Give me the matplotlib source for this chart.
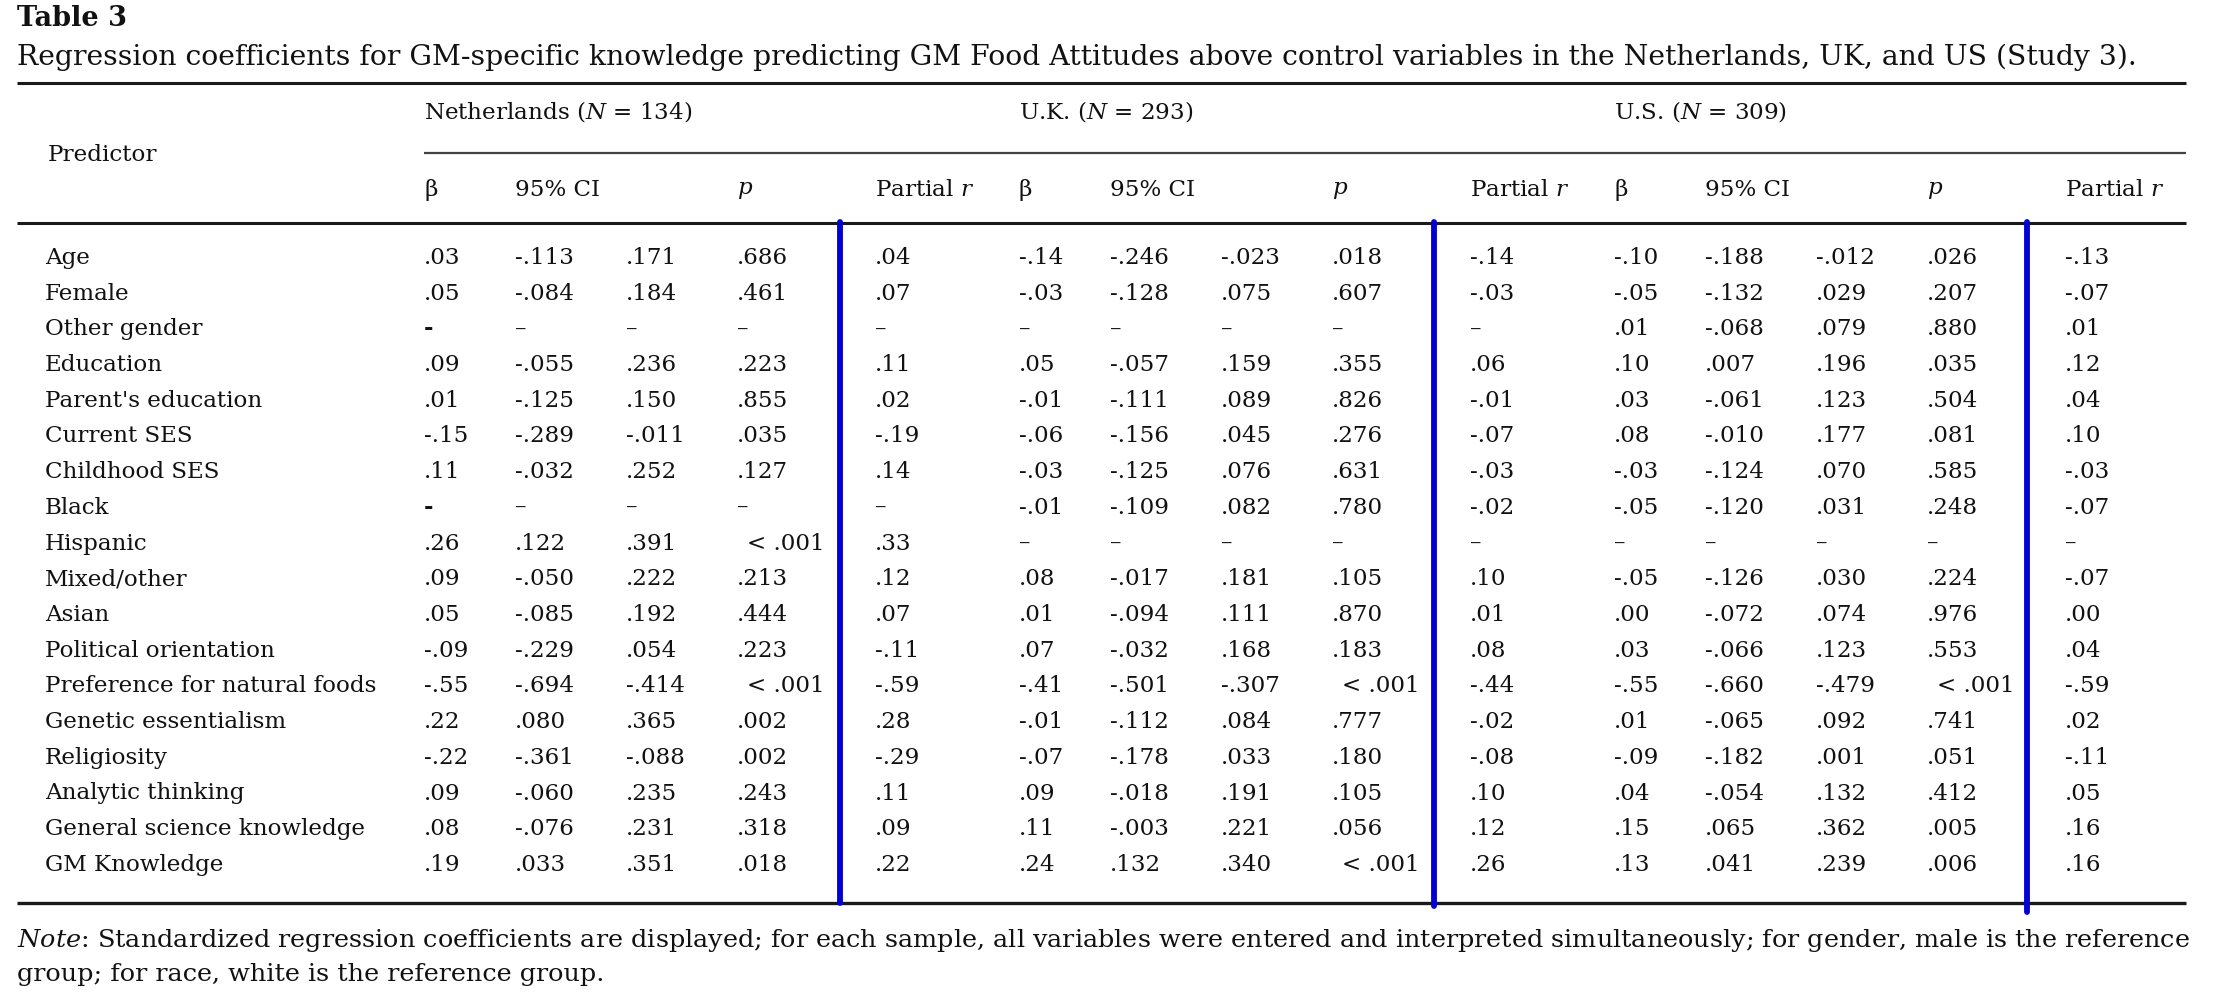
import matplotlib
matplotlib.use("Agg")
import matplotlib.pyplot as plt

plt.rcParams['font.family'] = ['DejaVu Serif']
plt.rcParams['mathtext.fontset'] = 'custom'
plt.rcParams['mathtext.rm'] = 'DejaVu Serif'
plt.rcParams['mathtext.it'] = 'DejaVu Serif:italic'

title = "Table 3"
caption = ("Regression coefficients for GM-specific knowledge predicting GM Food Attitudes "
           "above control variables in the Netherlands, UK, and US (Study 3).")
note_lines = [
    "$Note$: Standardized regression coefficients are displayed; for each sample, all variables were "
    "entered and interpreted simultaneously; for gender, male is the reference",
    "group; for race, white is the reference group.",
]

predictors = ["Age", "Female", "Other gender", "Education", "Parent's education", "Current SES",
              "Childhood SES", "Black", "Hispanic", "Mixed/other", "Asian", "Political orientation",
              "Preference for natural foods", "Genetic essentialism", "Religiosity",
              "Analytic thinking", "General science knowledge", "GM Knowledge"]

countries = ["Netherlands ($N$ = 134)", "U.K. ($N$ = 293)", "U.S. ($N$ = 309)"]
col_headers = ["β", "95% CI", "$p$", "Partial $r$"]

nl_beta = [.03, .05, "-", .09, .01, -.15, .11, "-", .26, .09, .05, -.09, -.55, .22, -.22, .09, .08, .19]
nl_lo = [-.113, -.084, None, -.055, -.125, -.289, -.032, None, .122, -.050, -.085, -.229, -.694, .080, -.361, -.060, -.076, .033]
nl_hi = [.171, .184, None, .236, .150, -.011, .252, None, .391, .222, .192, .054, -.414, .365, -.088, .235, .231, .351]
nl_p = [.686, .461, None, .223, .855, .035, .127, None, "< .001", .213, .444, .223, "< .001", .002, .002, .243, .318, .018]
nl_r = [.04, .07, None, .11, .02, -.19, .14, None, .33, .12, .07, -.11, -.59, .28, -.29, .11, .09, .22]

uk_beta = [-.14, -.03, None, .05, -.01, -.06, -.03, -.01, None, .08, .01, .07, -.41, -.01, -.07, .09, .11, .24]
uk_lo = [-.246, -.128, None, -.057, -.111, -.156, -.125, -.109, None, -.017, -.094, -.032, -.501, -.112, -.178, -.018, -.003, .132]
uk_hi = [-.023, .075, None, .159, .089, .045, .076, .082, None, .181, .111, .168, -.307, .084, .033, .191, .221, .340]
uk_p = [.018, .607, None, .355, .826, .276, .631, .780, None, .105, .870, .183, "< .001", .777, .180, .105, .056, "< .001"]
uk_r = [-.14, -.03, None, .06, -.01, -.07, -.03, -.02, None, .10, .01, .08, -.44, -.02, -.08, .10, .12, .26]

us_beta = [-.10, -.05, .01, .10, .03, .08, -.03, -.05, None, -.05, .00, .03, -.55, .01, -.09, .04, .15, .13]
us_lo = [-.188, -.132, -.068, .007, -.061, -.010, -.124, -.120, None, -.126, -.072, -.066, -.660, -.065, -.182, -.054, .065, .041]
us_hi = [-.012, .029, .079, .196, .123, .177, .070, .031, None, .030, .074, .123, -.479, .092, .001, .132, .362, .239]
us_p = [.026, .207, .880, .035, .504, .081, .585, .248, None, .224, .976, .553, "< .001", .741, .051, .412, .005, .006]
us_r = [-.13, -.07, .01, .12, .04, .10, -.03, -.07, None, -.07, .00, .04, -.59, .02, -.11, .05, .16, .16]

tables = [
    (nl_beta, nl_lo, nl_hi, nl_p, nl_r),
    (uk_beta, uk_lo, uk_hi, uk_p, uk_r),
    (us_beta, us_lo, us_hi, us_p, us_r),
]


def fmt(v, nd):
    if v is None:
        return "–"
    if isinstance(v, str):
        return v
    s = f"{abs(v):.{nd}f}"
    s = s[1:] if s.startswith("0") else s
    return ("-" if v < 0 else "") + s


W, H = 2214, 1008
fig = plt.figure(figsize=(W / 100, H / 100), dpi=100)
ax = fig.add_axes([0, 0, 1, 1])
ax.set_xlim(0, W)
ax.set_ylim(H, 0)
ax.axis("off")

BODY = 16.6
TXT = "#111111"
BLUE = "#0000d2"

# Title and caption
ax.text(17, 19, title, fontsize=19.5, fontweight="bold", va="center", ha="left", color=TXT)
ax.text(17, 57, caption, fontsize=20.3, va="center", ha="left", color=TXT)

# Rules
xl, xr = 17, 2186
ax.plot([xl, xr], [83, 83], color="#1a1a1a", lw=2.2, solid_capstyle="butt")
ax.plot([424, xr], [153, 153], color="#444444", lw=1.6, solid_capstyle="butt")
ax.plot([xl, xr], [223, 223], color="#1a1a1a", lw=2.2, solid_capstyle="butt")
ax.plot([xl, xr], [903, 903], color="#1a1a1a", lw=2.4, solid_capstyle="butt")

# Header
ax.text(48, 155, "Predictor", fontsize=BODY, va="center", ha="left", color=TXT)
group_x = [424, 1019, 1614]
col_off = [0, 91, 313, 451]
data_off = [0, 91, 202, 313, 451]
for gx, cname in zip(group_x, countries):
    ax.text(gx, 112, cname, fontsize=BODY, va="center", ha="left", color=TXT)
    for off, h in zip(col_off, col_headers):
        ax.text(gx + off, 190, h, fontsize=BODY, va="center", ha="left", color=TXT)

# Rows
y0, dy = 258, 35.7
for i, name in enumerate(predictors):
    y = y0 + i * dy
    ax.text(45, y, name, fontsize=BODY, va="center", ha="left", color=TXT)
    for gx, cols in zip(group_x, tables):
        for j, (off, col) in enumerate(zip(data_off, cols)):
            nd = 3 if j in (1, 2, 3) else 2
            s = fmt(col[i], nd)
            extra = 10 if s.startswith("<") else 0
            weight = "bold" if s == "-" else "normal"
            ax.text(gx + off + extra, y, s, fontsize=BODY, va="center", ha="left",
                    color=TXT, fontweight=weight)

# Blue vertical separators
for x, yb in zip([840, 1434, 2027], [903, 906, 912]):
    ax.plot([x, x], [222, yb], color=BLUE, lw=4.2, solid_capstyle="round")

# Note
ax.text(17, 941, note_lines[0], fontsize=18.35, va="center", ha="left", color=TXT)
ax.text(17, 975, note_lines[1], fontsize=18.35, va="center", ha="left", color=TXT)

fig.savefig("out.png", dpi=100, facecolor="white")
